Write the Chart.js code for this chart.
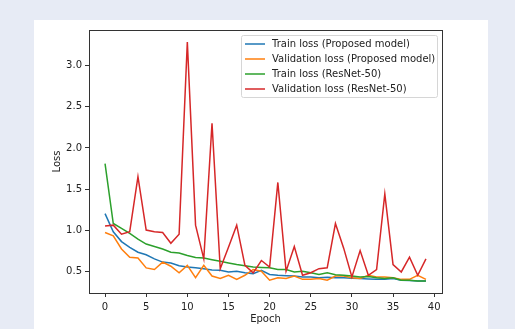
<!DOCTYPE html>
<html>
<head>
<meta charset="utf-8">
<script src="https://cdn.jsdelivr.net/npm/chart.js@4/dist/chart.umd.min.js"></script>
<style>
  html, body { margin: 0; padding: 0; background: #e7ebf5; width: 515px; height: 329px; overflow: hidden; }
  #panel { position: absolute; left: 34px; top: 20px; width: 454px; height: 309px; background: #fff; }
  canvas { display: block; }
</style>
</head>
<body>
<div id="panel"><canvas id="lossChart" width="454" height="309"></canvas></div>
<script>
// epochs 0..39
const epochs = [0,1,2,3,4,5,6,7,8,9,10,11,12,13,14,15,16,17,18,19,20,21,22,23,24,25,26,27,28,29,30,31,32,33,34,35,36,37,38,39];

const trainProposed = [1.20,0.98,0.86,0.79,0.73,0.70,0.65,0.61,0.60,0.565,0.55,0.54,0.53,0.515,0.51,0.49,0.50,0.48,0.47,0.51,
  0.46,0.45,0.445,0.44,0.43,0.43,0.42,0.425,0.42,0.42,0.415,0.41,0.405,0.40,0.40,0.41,0.39,0.385,0.38,0.38];
const valProposed = [0.97,0.93,0.77,0.67,0.66,0.54,0.52,0.61,0.56,0.48,0.57,0.42,0.57,0.44,0.41,0.45,0.40,0.45,0.52,0.50,
  0.39,0.42,0.41,0.44,0.40,0.40,0.41,0.39,0.44,0.44,0.42,0.41,0.45,0.43,0.43,0.42,0.40,0.40,0.45,0.40];
const trainResnet = [1.81,1.08,1.02,0.96,0.89,0.83,0.80,0.77,0.73,0.72,0.69,0.665,0.66,0.64,0.62,0.60,0.58,0.565,0.55,0.545,
  0.54,0.52,0.52,0.49,0.50,0.48,0.46,0.48,0.455,0.45,0.44,0.43,0.435,0.42,0.41,0.42,0.39,0.39,0.38,0.38];
const valResnet = [1.05,1.06,0.95,0.98,1.65,1.00,0.98,0.97,0.84,0.95,3.29,1.06,0.65,2.30,0.53,0.79,1.06,0.57,0.48,0.63,
  0.55,1.58,0.50,0.80,0.45,0.48,0.53,0.54,1.08,0.78,0.43,0.75,0.45,0.52,1.44,0.58,0.49,0.67,0.45,0.65];

const seriesLabels = ["Train loss (Proposed model)", "Validation loss (Proposed model)", "Train loss (ResNet-50)", "Validation loss (ResNet-50)"];
const seriesColors = ["#1f77b4", "#ff7f0e", "#2ca02c", "#d62728"];
const xTicks = [0,5,10,15,20,25,30,35,40];
const yTicks = [0.5,1.0,1.5,2.0,2.5,3.0];

const FONT = "'DejaVu Sans', sans-serif";
const allSeries = [trainProposed, valProposed, trainResnet, valResnet];

const datasets = allSeries.map((vals, i) => ({
  label: seriesLabels[i],
  data: vals.map((v, k) => ({ x: epochs[k], y: v })),
  borderColor: seriesColors[i],
  backgroundColor: seriesColors[i],
  borderWidth: 1.5,
  pointRadius: 0,
  tension: 0,
  order: 4 - i
}));

// frame (all four spines) + matplotlib style legend box
const framePlugin = {
  id: "frame",
  afterDatasetsDraw(chart) {
    const { ctx, chartArea: a } = chart;
    ctx.save();
    ctx.strokeStyle = "#333";
    ctx.lineWidth = 1;
    ctx.strokeRect(Math.round(a.left) + 0.5, Math.round(a.top) + 0.5, Math.round(a.right - a.left), Math.round(a.bottom - a.top));

    // legend
    const bx = a.right - 201, by = a.top + 5, bw = 196, bh = 62;
    ctx.fillStyle = "rgba(255,255,255,0.85)";
    ctx.strokeStyle = "#d6d6d6";
    ctx.beginPath();
    ctx.roundRect(bx + 0.5, by + 0.5, bw, bh, 2);
    ctx.fill();
    ctx.stroke();
    ctx.font = "10px " + FONT;
    ctx.textBaseline = "middle";
    seriesLabels.forEach((lab, i) => {
      const y = by + 9 + i * 15;
      ctx.strokeStyle = seriesColors[i];
      ctx.lineWidth = 1.5;
      ctx.beginPath();
      ctx.moveTo(bx + 4, y);
      ctx.lineTo(bx + 24, y);
      ctx.stroke();
      ctx.fillStyle = "#222";
      ctx.fillText(lab, bx + 31, y);
    });
    ctx.restore();
  }
};

new Chart(document.getElementById("lossChart").getContext("2d"), {
  type: "line",
  data: { datasets: datasets },
  options: {
    responsive: false,
    animation: false,
    layout: { padding: { left: 0, top: 10, right: 46, bottom: 0 } },
    plugins: { legend: { display: false }, tooltip: { enabled: false } },
    scales: {
      x: {
        type: "linear",
        min: -1.95,
        max: 40.95,
        afterBuildTicks(scale) { scale.ticks = xTicks.map(v => ({ value: v })); },
        afterFit(scale) { scale.height = 36; },
        grid: { drawOnChartArea: false, drawTicks: true, tickLength: 4, color: "#333" },
        border: { display: true, color: "#333" },
        ticks: { color: "#222", font: { family: FONT, size: 10 }, padding: 4, maxRotation: 0 },
        title: { display: true, text: "Epoch", color: "#222", font: { family: FONT, size: 10 }, padding: { top: 0, bottom: 4 } }
      },
      y: {
        type: "linear",
        min: 0.234,
        max: 3.436,
        afterBuildTicks(scale) { scale.ticks = yTicks.map(v => ({ value: v })); },
        afterFit(scale) { scale.width = 55; },
        grid: { drawOnChartArea: false, drawTicks: true, tickLength: 4, color: "#333" },
        border: { display: true, color: "#333" },
        ticks: { color: "#222", font: { family: FONT, size: 10 }, padding: 3, callback: v => v.toFixed(1) },
        title: { display: true, text: "Loss", color: "#222", font: { family: FONT, size: 10 }, padding: { top: 17, bottom: 4 } }
      }
    }
  },
  plugins: [framePlugin]
});
</script>
</body>
</html>
